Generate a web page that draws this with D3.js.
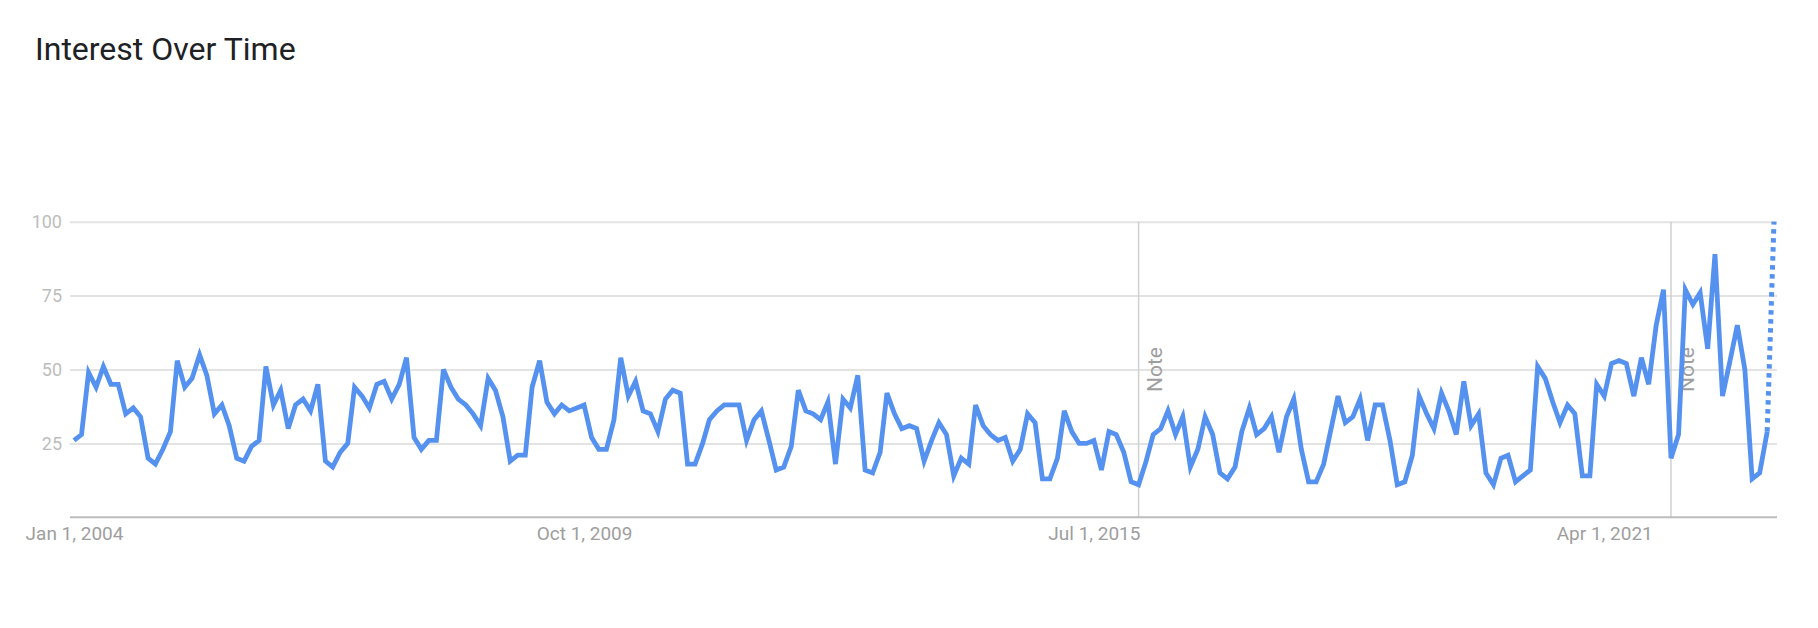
<!DOCTYPE html>
<html>
<head>
<meta charset="utf-8">
<script src="https://cdnjs.cloudflare.com/ajax/libs/d3/7.8.5/d3.min.js"></script>
<style>
	body { margin: 0; background: #fff; }
	svg { display: block; font-family: Roboto, "Noto Sans", sans-serif; }
</style>
</head>
<body>
<div id="chart"></div>
<script>
// monthly interest, Jan 2004 .. Mar 2023 (last month is partial)
var startMonth = new Date(2004, 0, 1);
var interest = [
	26, 28, 49, 44, 51, 45, 45, 35, 37, 34, 20, 18,
	23, 29, 53, 44, 47, 55, 48, 35, 38, 31, 20, 19,
	24, 26, 51, 38, 43, 30, 38, 40, 36, 45, 19, 17,
	22, 25, 44, 41, 37, 45, 46, 40, 45, 54, 27, 23,
	26, 26, 50, 44, 40, 38, 35, 31, 47, 43, 34, 19,
	21, 21, 44, 53, 39, 35, 38, 36, 37, 38, 27, 23,
	23, 33, 54, 41, 46, 36, 35, 29, 40, 43, 42, 18,
	18, 25, 33, 36, 38, 38, 38, 26, 33, 36, 26, 16,
	17, 24, 43, 36, 35, 33, 39, 18, 40, 37, 48, 16,
	15, 22, 42, 35, 30, 31, 30, 19, 26, 32, 28, 14,
	20, 18, 38, 31, 28, 26, 27, 19, 23, 35, 32, 13,
	13, 20, 36, 29, 25, 25, 26, 16, 29, 28, 22, 12,
	11, 19, 28, 30, 36, 28, 34, 17, 23, 34, 28, 15,
	13, 17, 29, 37, 28, 30, 34, 22, 34, 40, 23, 12,
	12, 18, 29, 41, 32, 34, 40, 26, 38, 38, 26, 11,
	12, 21, 41, 35, 30, 42, 36, 28, 46, 31, 35, 15,
	11, 20, 21, 12, 14, 16, 51, 47, 39, 32, 38, 35,
	14, 14, 45, 41, 52, 53, 52, 41, 54, 45, 65, 77,
	20, 28, 77, 72, 76, 57, 89, 41, 53, 65, 50, 13,
	15, 29, 100
];
var yTicks = [25, 50, 75, 100];
var xTickDates = [new Date(2004, 0, 1), new Date(2009, 9, 1), new Date(2015, 6, 1), new Date(2021, 3, 1)];
var xTickLabels = ["Jan 1, 2004", "Oct 1, 2009", "Jul 1, 2015", "Apr 1, 2021"];
var noteDates = [new Date(2016, 0, 1), new Date(2022, 0, 1)];
var noteLabels = ["Note", "Note"];

var months = interest.map(function(v, i){ return d3.timeMonth.offset(startMonth, i); });
var points = months.map(function(m, i){ return {date: m, value: interest[i]}; });

var width = 1818, height = 628;
var plotLeft = 70, plotRight = 1777;

var x = d3.scaleTime()
	.domain([startMonth, months[months.length - 1]])
	.range([74, 1774]);
var y = d3.scaleLinear()
	.domain([0, 100])
	.range([517.3, 221.7]);

var svg = d3.select("#chart")
	.append("svg")
	.attr("width", width)
	.attr("height", height);

svg.append("text")
	.attr("x", 35)
	.attr("y", 60)
	.attr("fill", "#202124")
	.attr("font-size", "32px")
	.text("Interest Over Time");

// horizontal grid + y labels
var yAxis = svg.append("g")
	.attr("transform", "translate(" + plotLeft + ",0)")
	.call(d3.axisLeft(y).tickValues(yTicks).tickSize(-(plotRight - plotLeft)).tickPadding(8));
yAxis.select(".domain").remove();
yAxis.selectAll(".tick line")
	.attr("stroke", "#e3e3e3")
	.attr("stroke-width", 2);
yAxis.selectAll(".tick text")
	.attr("fill", "#bdbdbd")
	.attr("font-size", "18px")
	.attr("font-family", "Roboto, sans-serif");

// note markers
var notes = svg.append("g");
noteDates.forEach(function(d, i){
	var nx = x(d);
	notes.append("line")
		.attr("x1", nx).attr("x2", nx)
		.attr("y1", y(100)).attr("y2", y(0))
		.attr("stroke", "#d0d0d0")
		.attr("stroke-width", 1.5);
	notes.append("text")
		.attr("transform", "translate(" + (nx + 23) + ",392) rotate(-90)")
		.attr("fill", "#9e9e9e")
		.attr("font-size", "21px")
		.text(noteLabels[i]);
});

// x axis
var xAxis = svg.append("g")
	.attr("transform", "translate(0," + y(0) + ")")
	.call(d3.axisBottom(x).tickValues(xTickDates).tickSize(0).tickPadding(9)
		.tickFormat(function(d, i){ return xTickLabels[i]; }));
xAxis.select(".domain").remove();
xAxis.selectAll(".tick text")
	.attr("fill", "#9e9e9e")
	.attr("font-size", "19px")
	.attr("font-family", "Roboto, sans-serif");
xAxis.append("line")
	.attr("x1", plotLeft).attr("x2", plotRight)
	.attr("y1", 0).attr("y2", 0)
	.attr("stroke", "#bdbdbd")
	.attr("stroke-width", 2);

// series: solid for complete months, dotted into the partial month
var line = d3.line()
	.x(function(d){ return x(d.date); })
	.y(function(d){ return y(d.value); });

var solid = points.slice(0, points.length - 1);
var partial = points.slice(points.length - 2);

svg.append("path")
	.datum(solid)
	.attr("d", line)
	.attr("fill", "none")
	.attr("stroke", "#5592ef")
	.attr("stroke-width", 4.8)
	.attr("stroke-linejoin", "miter");

svg.append("path")
	.datum(partial)
	.attr("d", line)
	.attr("fill", "none")
	.attr("stroke", "#5592ef")
	.attr("stroke-width", 5)
	.attr("stroke-dasharray", "4.5,4.5");
</script>
</body>
</html>
